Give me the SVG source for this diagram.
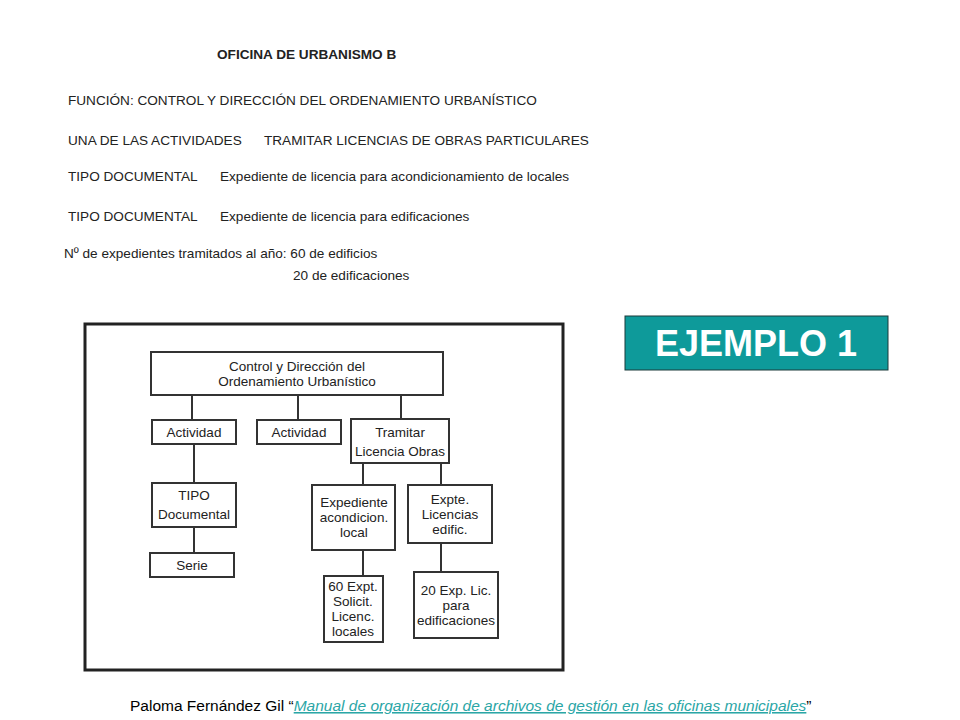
<svg xmlns="http://www.w3.org/2000/svg" width="960" height="720" viewBox="0 0 960 720">
<style>
.h{font-family:"Liberation Sans",Arial,sans-serif;font-size:13.6px;fill:#222}
.b{fill:#fff;stroke:#333;stroke-width:2}
.t{font-family:"Liberation Sans",Arial,sans-serif;font-size:13.5px;fill:#222;text-anchor:middle}
.c{stroke:#333;stroke-width:2;fill:none}
</style>
<rect width="960" height="720" fill="#fff"/>
<text class="h" x="217" y="59" font-weight="bold">OFICINA DE URBANISMO B</text>
<text class="h" x="68" y="105">FUNCIÓN: CONTROL Y DIRECCIÓN DEL ORDENAMIENTO URBANÍSTICO</text>
<text class="h" x="68" y="145">UNA DE LAS ACTIVIDADES</text>
<text class="h" x="264" y="145">TRAMITAR LICENCIAS DE OBRAS PARTICULARES</text>
<text class="h" x="68" y="181">TIPO DOCUMENTAL</text>
<text class="h" x="220" y="181">Expediente de licencia para acondicionamiento de locales</text>
<text class="h" x="68" y="221">TIPO DOCUMENTAL</text>
<text class="h" x="220" y="221">Expediente de licencia para edificaciones</text>
<text class="h" x="64" y="258">Nº de expedientes tramitados al año: 60 de edificios</text>
<text class="h" x="293" y="280">20 de edificaciones</text>
<rect x="85" y="324" width="478" height="346" fill="none" stroke="#222" stroke-width="3"/>
<g id="connectors">
<path class="c" d="M192 395V420M298 395V420M401 395V419M194 444V483M194 527V553M363 463V485M441 463V485M363 550V576M441 543V572"/>
</g>
<g id="n1"><rect class="b" x="151" y="352" width="292" height="43"/><text class="t" x="297" y="371">Control y Dirección del</text><text class="t" x="297" y="386">Ordenamiento Urbanístico</text></g>
<g id="n2"><rect class="b" x="152" y="420" width="84" height="24"/><text class="t" x="194" y="437">Actividad</text></g>
<g id="n3"><rect class="b" x="257" y="420" width="84" height="24"/><text class="t" x="299" y="437">Actividad</text></g>
<g id="n4"><rect class="b" x="351" y="419" width="98" height="44"/><text class="t" x="400" y="437">Tramitar</text><text class="t" x="400" y="456">Licencia Obras</text></g>
<g id="n5"><rect class="b" x="152" y="483" width="84" height="44"/><text class="t" x="194" y="500">TIPO</text><text class="t" x="194" y="519">Documental</text></g>
<g id="n6"><rect class="b" x="150" y="553" width="84" height="24"/><text class="t" x="192" y="570">Serie</text></g>
<g id="n7"><rect class="b" x="312" y="485" width="83" height="65"/><text class="t" x="354" y="507">Expediente</text><text class="t" x="354" y="522">acondicion.</text><text class="t" x="354" y="537">local</text></g>
<g id="n8"><rect class="b" x="408" y="485" width="84" height="58"/><text class="t" x="450" y="504">Expte.</text><text class="t" x="450" y="519">Licencias</text><text class="t" x="450" y="534">edific.</text></g>
<g id="n9"><rect class="b" x="324" y="576" width="59" height="66"/><text class="t" x="353" y="591">60 Expt.</text><text class="t" x="353" y="606">Solicit.</text><text class="t" x="353" y="621">Licenc.</text><text class="t" x="353" y="636">locales</text></g>
<g id="n10"><rect class="b" x="414" y="572" width="84" height="66"/><text class="t" x="456" y="595">20 Exp. Lic.</text><text class="t" x="456" y="610">para</text><text class="t" x="456" y="625">edificaciones</text></g>
<g id="ejemplo"><rect x="625" y="316" width="263" height="54" fill="#0e9a9a" stroke="#1a3a3a" stroke-width="1"/><text x="756" y="356" text-anchor="middle" font-family="Liberation Sans,Arial,sans-serif" font-size="36" font-weight="bold" fill="#fff">EJEMPLO 1</text></g>
<text x="130" y="711" font-family="Liberation Sans,Arial,sans-serif" font-size="15.5" fill="#000">Paloma Fernández Gil “<tspan fill="#2ba6a6" font-style="italic" text-decoration="underline">Manual de organización de archivos de gestión en las oficinas municipales</tspan>”</text>
</svg>
